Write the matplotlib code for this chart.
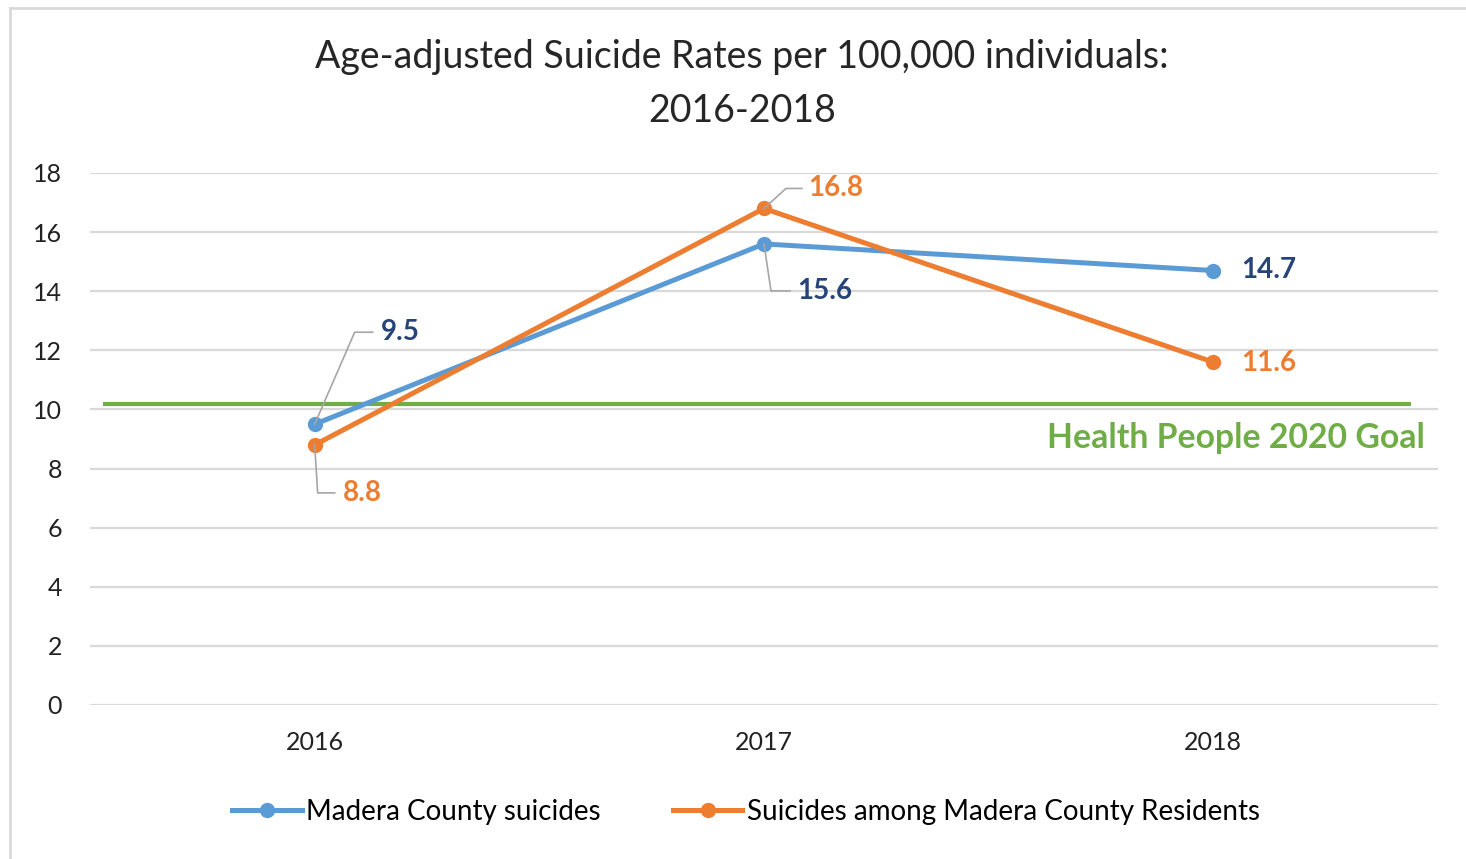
import matplotlib
matplotlib.use("Agg")
import matplotlib.pyplot as plt
from matplotlib.lines import Line2D

plt.rcParams['font.family'] = ['Lato', 'DejaVu Sans']

years = ["2016", "2017", "2018"]
county = [9.5, 15.6, 14.7]
residents = [8.8, 16.8, 11.6]
goal = 10.2
goal_label = "Health People 2020 Goal"
series_names = ["Madera County suicides", "Suicides among Madera County Residents"]
title = "Age-adjusted Suicide Rates per 100,000 individuals:\n2016-2018"
yticks = [0, 2, 4, 6, 8, 10, 12, 14, 16, 18]

BLUE = "#5B9BD5"
ORANGE = "#ED7D31"
GREEN = "#70AD47"
NAVY = "#264478"
GRID = "#D9D9D9"

W, H = 1466, 859
fig = plt.figure(figsize=(W / 100, H / 100), dpi=100)
ax = fig.add_axes([90 / W, 1 - 705 / H, (1438 - 90) / W, (705 - 173) / H])

x = list(range(len(years)))
ax.set_xlim(-0.5, len(years) - 0.5)
ax.set_ylim(0, 18)

for t in yticks:
    ax.axhline(t, color=GRID, lw=1.6, zorder=0)

ax.plot([-0.47, 2.44], [goal, goal], color=GREEN, lw=3.0, zorder=2, solid_capstyle='butt')
ax.plot(x, county, color=BLUE, lw=3.6, marker='o', ms=10, zorder=3,
        solid_capstyle='round', label=series_names[0])
ax.plot(x, residents, color=ORANGE, lw=3.6, marker='o', ms=10, zorder=4,
        solid_capstyle='round', label=series_names[1])

ax.set_yticks(yticks)
ax.set_xticks(x)
ax.set_xticklabels(years)
ax.tick_params(axis='both', length=0, labelsize=18, colors='#222222')
ax.tick_params(axis='y', pad=20)
ax.tick_params(axis='x', pad=19)
for s in ax.spines.values():
    s.set_visible(False)

fig.text(742 / W, 1 - 84 / H, title, ha='center', va='center', fontsize=27,
         color='#262626', linespacing=1.6)

ax.text(2.47, goal - 1.15, goal_label, ha='right', va='center', fontsize=24.3,
        fontweight='bold', color=GREEN)

fig.canvas.draw()
to_px = ax.transData.transform


def label(xi, yi, text, color, dx, dy, leader=None):
    px, py = to_px((xi, yi))
    fig.text((px + dx) / W, (py + dy) / H, text, ha='left', va='center',
             fontsize=20, fontweight='bold', color=color)
    if leader:
        xs = [px] + [px + a for a, b in leader]
        ys = [py] + [py + b for a, b in leader]
        fig.add_artist(Line2D([v / W for v in xs], [v / H for v in ys],
                              color='#A6A6A6', lw=1.2, zorder=1))


# blue labels
label(x[0], county[0], f"{county[0]}", NAVY, 66, 92, [(40, 92), (58, 92)])
label(x[1], county[1], f"{county[1]}", NAVY, 33, -47, [(7, -47), (26, -47)])
label(x[2], county[2], f"{county[2]}", NAVY, 28, 1)
# orange labels
label(x[0], residents[0], f"{residents[0]}", ORANGE, 28, -48, [(3, -48), (20, -48)])
label(x[1], residents[1], f"{residents[1]}", ORANGE, 44, 20, [(22, 20), (38, 20)])
label(x[2], residents[2], f"{residents[2]}", ORANGE, 28, -1)

handles = [Line2D([], [], color=BLUE, lw=3.6, marker='o', ms=10),
           Line2D([], [], color=ORANGE, lw=3.6, marker='o', ms=10)]
fig.legend(handles, series_names, loc='center', bbox_to_anchor=(746 / W, 1 - 812 / H),
           ncol=2, frameon=False, fontsize=20, handlelength=2.5, handletextpad=0.15,
           columnspacing=2.6)

# chart border (top and left visible)
fig.add_artist(Line2D([10 / W, 1.0], [1 - 8 / H, 1 - 8 / H], color='#D9D9D9', lw=2))
fig.add_artist(Line2D([10 / W, 10 / W], [0, 1 - 8 / H], color='#D9D9D9', lw=2))

fig.savefig("out.png", dpi=100)
